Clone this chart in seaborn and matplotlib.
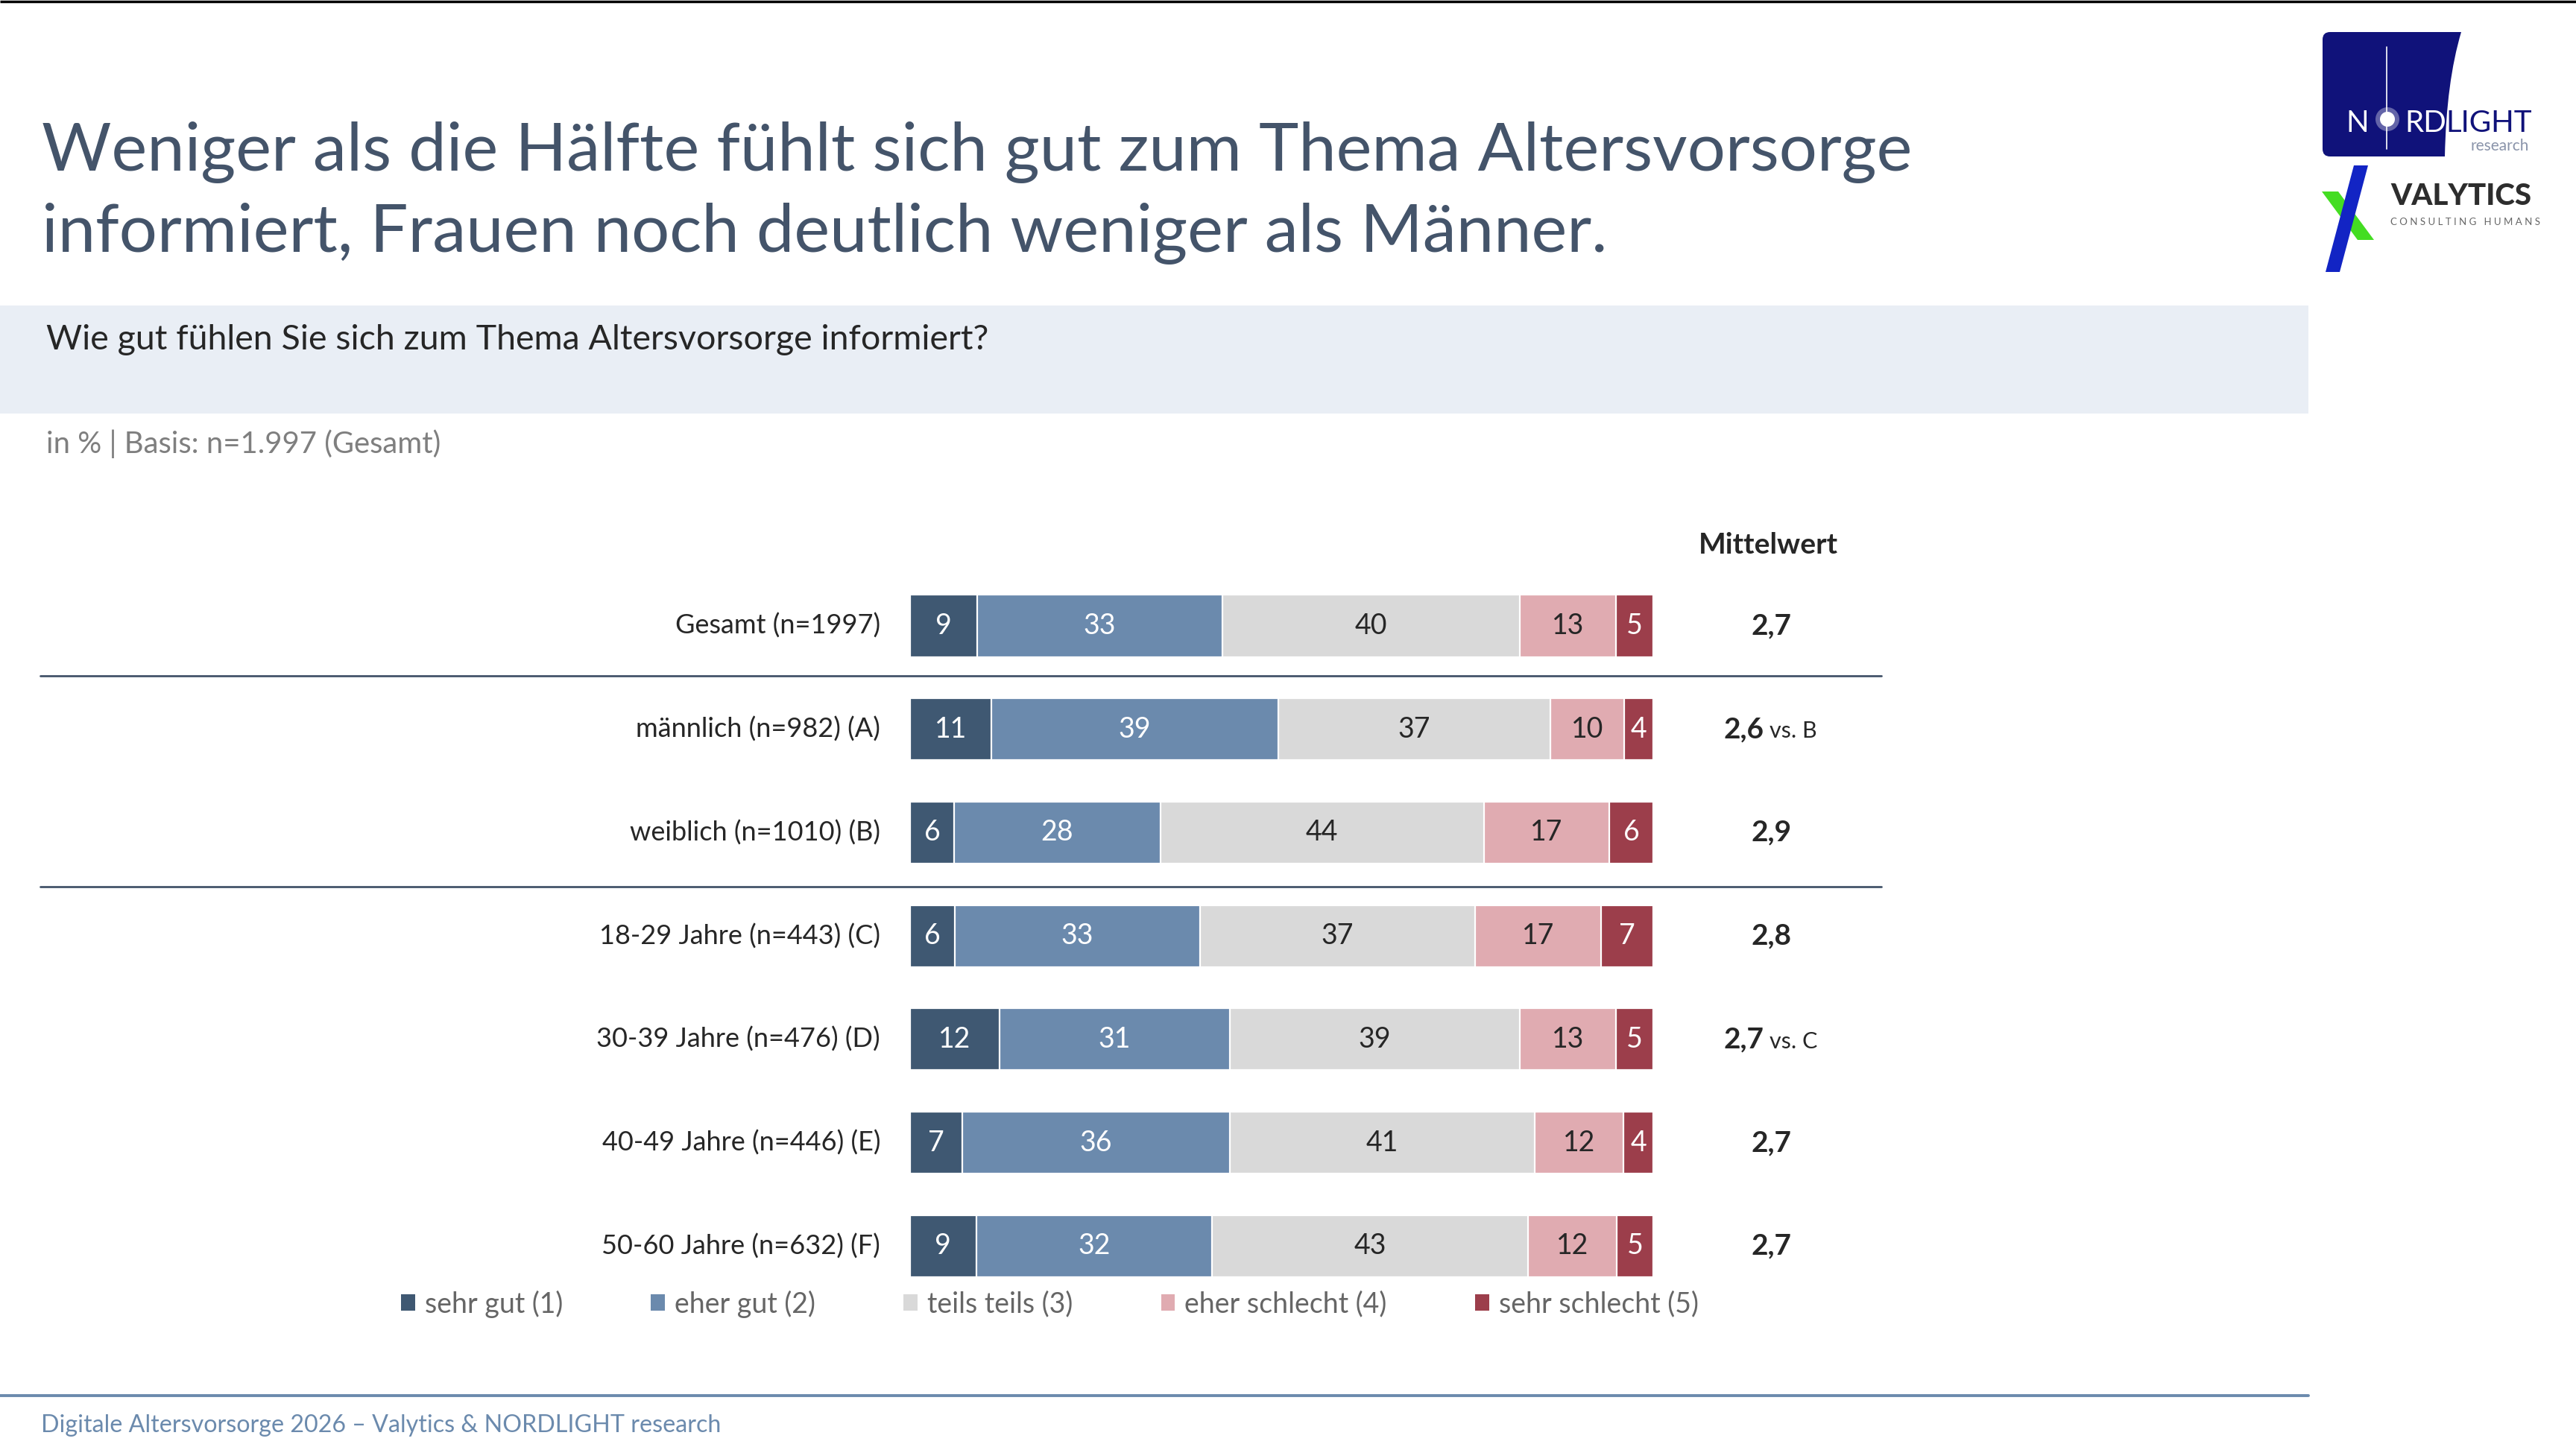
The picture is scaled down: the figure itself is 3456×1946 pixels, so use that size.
import matplotlib
matplotlib.use("Agg")
import matplotlib.pyplot as plt
from matplotlib.patches import Patch, Rectangle, Polygon, PathPatch, Circle
from matplotlib.path import Path
import seaborn as sns
import pandas as pd

# ---- data ----
groups = [
    "Gesamt (n=1997)",
    "männlich (n=982) (A)",
    "weiblich (n=1010) (B)",
    "18-29 Jahre (n=443) (C)",
    "30-39 Jahre (n=476) (D)",
    "40-49 Jahre (n=446) (E)",
    "50-60 Jahre (n=632) (F)",
]
levels = ["sehr gut (1)", "eher gut (2)", "teils teils (3)", "eher schlecht (4)", "sehr schlecht (5)"]
sehr_gut = [9, 11, 6, 6, 12, 7, 9]
eher_gut = [33, 39, 28, 33, 31, 36, 32]
teils_teils = [40, 37, 44, 37, 39, 41, 43]
eher_schlecht = [13, 10, 17, 17, 13, 12, 12]
sehr_schlecht = [5, 4, 6, 7, 5, 4, 5]
mean_values = ["2,7", "2,6", "2,9", "2,8", "2,7", "2,7", "2,7"]
mean_notes = ["", "vs. B", "", "", "vs. C", "", ""]

colors = ["#3f5872", "#6b8aad", "#d9d9d9", "#e0abb1", "#9c3e4b"]
text_colors = ["white", "white", "#262626", "#262626", "white"]
DARK = "#262626"
SLATE = "#44546a"

# long table with the left / right edge of every segment (rows scaled to 100)
series = [sehr_gut, eher_gut, teils_teils, eher_schlecht, sehr_schlecht]
rows = []
for i, g in enumerate(groups):
    total = sum(s[i] for s in series)
    left = 0.0
    for lvl, s in zip(levels, series):
        share = s[i] / total * 100
        rows.append({"group": g, "level": lvl, "value": s[i],
                     "left": left, "right": left + share})
        left += share
df = pd.DataFrame(rows)

sns.set_style("white")
plt.rcParams["font.family"] = ["Lato", "DejaVu Sans"]

W, H = 3456, 1946
fig = plt.figure(figsize=(W / 100, H / 100), dpi=100)

# background layer in pixel coordinates for the slide furniture
bg = fig.add_axes([0, 0, 1, 1], zorder=0)
bg.set_xlim(0, W)
bg.set_ylim(H, 0)
bg.set_axis_off()

bg.plot([0, W], [2, 2], color="black", lw=2.5, solid_capstyle="butt")
bg.add_patch(Rectangle((0, 410), 3097, 145, facecolor="#e9eef5", edgecolor="none"))
bg.plot([0, 3097], [1873, 1873], color="#6b8aad", lw=2.8)

bg.text(56, 229, "Weniger als die Hälfte fühlt sich gut zum Thema Altersvorsorge",
        fontsize=65, color=SLATE, va="baseline")
bg.text(56, 338, "informiert, Frauen noch deutlich weniger als Männer.",
        fontsize=65, color=SLATE, va="baseline")
bg.text(62, 469, "Wie gut fühlen Sie sich zum Thema Altersvorsorge informiert?",
        fontsize=33.5, color=DARK, va="baseline")
bg.text(62, 608, "in % | Basis: n=1.997 (Gesamt)", fontsize=28.8, color="#7f7f7f",
        va="baseline")
bg.text(55, 1922, "Digitale Altersvorsorge 2026 \u2013 Valytics & NORDLIGHT research",
        fontsize=23.2, color="#6b8aad", va="baseline")

# NORDLIGHT logo
navy = "#10127a"
verts = [(3126, 43), (3302, 43), (3282, 110), (3280, 210), (3126, 210), (3116, 210),
         (3116, 200), (3116, 53), (3116, 43), (3126, 43)]
codes = [Path.MOVETO, Path.LINETO, Path.CURVE3, Path.CURVE3, Path.LINETO,
         Path.CURVE3, Path.CURVE3, Path.LINETO, Path.CURVE3, Path.CURVE3]
bg.add_patch(PathPatch(Path(verts, codes), facecolor=navy, edgecolor="none"))
bg.plot([3202, 3202], [63, 200], color="white", lw=1.2)
bg.add_patch(Circle((3203, 160), 16, facecolor="white", alpha=0.35, edgecolor="none"))
bg.add_patch(Circle((3203, 160), 10, facecolor="white", edgecolor="none"))
bg.text(3147, 177, "N", fontsize=29, color="white", va="baseline")
bg.text(3226, 177, "RD", fontsize=29, color="white", va="baseline")
bg.text(3281, 177, "LIGHT", fontsize=29, color=navy, va="baseline")
bg.text(3393, 202, "research", fontsize=15, color="#8a94aa", ha="right", va="baseline")

# VALYTICS logo
bg.add_patch(Polygon([(3115, 257), (3137, 257), (3185, 322), (3163, 322)],
                     facecolor="#44dd22", edgecolor="none"))
bg.add_patch(Polygon([(3158, 222), (3177, 222), (3139, 365), (3120, 365)],
                     facecolor="#1224c4", edgecolor="none"))
bg.text(3207, 275, "VALYTICS", fontsize=29, color="#2d2d2d", fontweight="black",
        va="baseline")
bg.text(3207, 302, " ".join("CONSULTING") + "   " + " ".join("HUMANS"), fontsize=9.5,
        color="#666666", va="baseline")

# bar layer
ax = fig.add_axes([0.3533, 0.1050, 0.2885, 0.4990], zorder=1)
ax.patch.set_alpha(0)
for lvl, c in reversed(list(zip(levels, colors))):
    sns.barplot(data=df[df["level"] == lvl], x="right", y="group", order=groups,
                color=c, width=0.6, edgecolor="white", linewidth=1.6,
                errorbar=None, saturation=1, ax=ax)
ax.set_xlim(0, 100)
ax.set_ylim(6.5, -0.5)
ax.set_axis_off()

for _, r in df.iterrows():
    i = groups.index(r["group"])
    k = levels.index(r["level"])
    ax.text((r["left"] + r["right"]) / 2, i, str(r["value"]), ha="center",
            va="center", fontsize=27, color=text_colors[k])

for i, g in enumerate(groups):
    ax.text(-4, i, g, ha="right", va="center", fontsize=26, color=DARK)
    if mean_notes[i]:
        ax.text(114.9, i, mean_values[i], ha="right", va="center", fontsize=28,
                fontweight="bold", color=DARK)
        ax.text(115.6, i + 0.02, mean_notes[i], ha="left", va="center", fontsize=22,
                color=DARK)
    else:
        ax.text(115.9, i, mean_values[i], ha="center", va="center", fontsize=28,
                fontweight="bold", color=DARK)

ax.text(115.5, -0.78, "Mittelwert", ha="center", va="center", fontsize=28,
        fontweight="bold", color=DARK)

for y in (0.48, 2.52):
    ax.plot([-117, 130.7], [y, y], color=SLATE, lw=2, clip_on=False)

handles = [Patch(facecolor=c, edgecolor="none", label=l) for l, c in zip(levels, colors)]
fig.legend(handles=handles, loc="center", bbox_to_anchor=(0.4075, 0.1007), ncol=5,
           frameon=False, fontsize=27, handlelength=0.5, handleheight=0.53,
           handletextpad=0.35, columnspacing=3.15, labelcolor="#666666")

fig.savefig("out.png", dpi=100)
